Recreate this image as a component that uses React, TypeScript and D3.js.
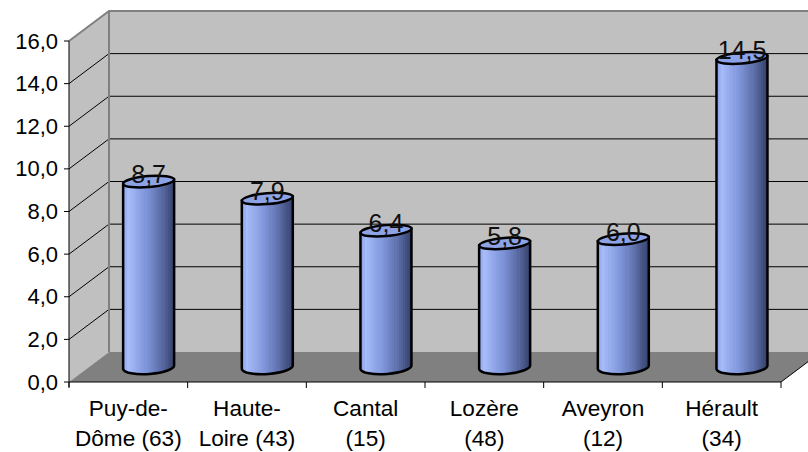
import React from 'react';
import * as d3 from 'd3';

const categories = [['Puy-de-', 'Dôme (63)'], ['Haute-', 'Loire (43)'], ['Cantal', '(15)'], ['Lozère', '(48)'], ['Aveyron', '(12)'], ['Hérault', '(34)']];
const values = [8.7, 7.9, 6.4, 5.8, 6.0, 14.5];
const ticks = [0, 2, 4, 6, 8, 10, 12, 14, 16];

const fmt = (v: number) => v.toFixed(1).replace('.', ',');
const font = '"Liberation Sans", Arial, sans-serif';

// depth of the fake 3d box
const dx = 40;
const dy = -30;

const x = d3.scaleBand<number>().domain(d3.range(categories.length)).range([69, 781]);
const y = d3.scaleLinear().domain([0, 16]).range([382, 41]);

// cylinder shading is banded in the original, so use hard stops
const shade = d3.scaleLinear<string>()
    .domain([0, 0.1, 0.45, 0.72, 1])
    .range(['#8ba0e6', '#a6bbf8', '#7f95da', '#5f71ab', '#34406c']);
const bands = d3.range(24);

export default function App() {
    const rx = 25.5;
    const ry = 5.5;
    const tilt = 2;
    const x0 = x.range()[0];
    const x1 = x.range()[1];
    const y0 = y(0);
    const yTop = y(16);

    return (
        <svg width={808} height={452} style={{ position: 'absolute', left: 0, top: 0, background: '#fff' }} fontFamily={font}>
            <defs>
                <linearGradient id="cyl" x1="0" x2="1" y1="0" y2="0">
                    {bands.flatMap(b => [
                        <stop key={`${b}a`} offset={b / bands.length} stopColor={shade((b + 0.5) / bands.length)} />,
                        <stop key={`${b}b`} offset={(b + 1) / bands.length} stopColor={shade((b + 0.5) / bands.length)} />,
                    ])}
                </linearGradient>
            </defs>

            {/* walls */}
            <path d={`M${x0},${y0}L${x0},${yTop}L${x0 + dx},${yTop + dy}L${x0 + dx},${y0 + dy}Z`} fill="#c0c0c0" />
            <rect x={x0 + dx} y={yTop + dy} width={808 - x0 - dx} height={y0 - yTop} fill="#c0c0c0" />
            <path d={`M${x0},${y0}L${x0 + dx},${y0 + dy}L${x1 + dx},${y0 + dy}L${x1},${y0}Z`} fill="#808080" />

            {/* grid */}
            {ticks.slice(1, -1).map(t => (
                <g key={t} stroke="#000" strokeWidth={1}>
                    <line x1={x0} y1={y(t)} x2={x0 + dx} y2={y(t) + dy} />
                    <line x1={x0 + dx} y1={y(t) + dy} x2={808} y2={y(t) + dy} />
                </g>
            ))}
            <path d={`M${x0},${yTop}L${x0 + dx},${yTop + dy}L808,${yTop + dy}`} fill="none" stroke="#808080" strokeWidth={2} />
            <line x1={x0 + dx} y1={yTop + dy} x2={x0 + dx} y2={y0 + dy} stroke="#808080" strokeWidth={2} />
            <line x1={x1} y1={y0} x2={x1 + dx} y2={y0 + dy} stroke="#000" strokeWidth={1} />

            {/* axes */}
            <line x1={x0} y1={yTop} x2={x0} y2={y0 + 5} stroke="#000" />
            <line x1={x0} y1={y0} x2={x1} y2={y0} stroke="#000" />
            {ticks.map(t => (
                <g key={t}>
                    <line x1={x0 - 5} y1={y(t)} x2={x0} y2={y(t)} stroke="#000" />
                    <text x={x0 - 11} y={y(t) + 7.5} textAnchor="end" fontSize={22}>{fmt(t)}</text>
                </g>
            ))}
            {d3.range(categories.length + 1).map(i => {
                const tx = x0 + i * x.step();
                return <line key={i} x1={tx} y1={y0} x2={tx} y2={y0 + 6} stroke="#000" />;
            })}

            {/* cylinders */}
            {values.map((v, i) => {
                const cx = x(i)! + x.bandwidth() / 2 + dx / 2 + 0.3;
                const base = y(0) + dy / 2;
                const top = y(v) + dy / 2;
                return (
                    <g key={i}>
                        <path
                            d={`M${cx - rx},${top + tilt}L${cx - rx},${base + tilt}A${rx},${ry + 1.5} -4 0 0 ${cx + rx},${base - tilt}L${cx + rx},${top - tilt}Z`}
                            fill="url(#cyl)" stroke="#000" strokeWidth={2.5}
                        />
                        <ellipse cx={cx} cy={top} rx={rx} ry={ry} transform={`rotate(-5 ${cx} ${top})`} fill="#8ea3e6" stroke="#000" strokeWidth={2.5} />
                        <text x={cx} y={top + 1.5} textAnchor="middle" fontSize={25} fill="#111">{fmt(v)}</text>
                    </g>
                );
            })}

            {/* category labels */}
            {categories.map((lines, i) => (
                <text key={i} textAnchor="middle" fontSize={22.6}>
                    {lines.map((l, j) => (
                        <tspan key={j} x={x(i)! + x.bandwidth() / 2} y={415.5 + j * 30}>{l}</tspan>
                    ))}
                </text>
            ))}
        </svg>
    );
}
